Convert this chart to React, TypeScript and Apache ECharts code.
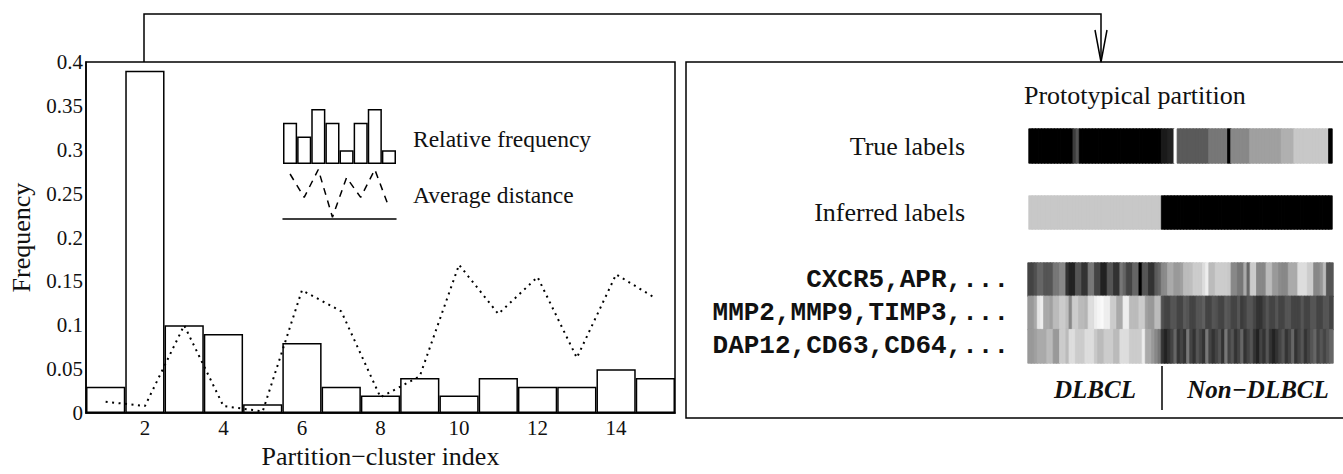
import React, { useEffect, useRef } from 'react';
import * as echarts from 'echarts';

// ---- Left panel data ----
const CLUSTER_INDEX = [1, 2, 3, 4, 5, 6, 7, 8, 9, 10, 11, 12, 13, 14, 15];
const REL_FREQ = [0.03, 0.39, 0.1, 0.09, 0.01, 0.08, 0.03, 0.02, 0.04, 0.02, 0.04, 0.03, 0.03, 0.05, 0.04];
const AVG_DIST = [0.013, 0.008, 0.1, 0.008, 0.002, 0.14, 0.116, 0.018, 0.042, 0.169, 0.113, 0.155, 0.063, 0.158, 0.131];
const X_TICKS = [2, 4, 6, 8, 10, 12, 14];

// legend icon
const LEGEND_BARS = [3, 2, 4, 3, 1, 3, 4, 1];
const LEGEND_ZIGZAG = [5, 2.4, 5.5, 0.2, 4.6, 2.4, 5.5, 1.3];

// ---- Right panel data (gray level 0=black .. 255=white, one value per sample column) ----
// run-length segments: [number of columns, gray]
const TRUE_LABEL_SEGMENTS = [
  [14, 0], [1, 60], [1, 85], [26, 0], [2, 26], [2, 34], [1, 255], [10, 90], [6, 119], [1, 0],
  [6, 136], [10, 160], [4, 176], [11, 200], [1, 0],
];
const INFERRED_SEGMENTS = [[42, 200], [54, 0]];

const GENE_LABELS = ['CXCR5,APR,...', 'MMP2,MMP9,TIMP3,...', 'DAP12,CD63,CD64,...'];
const GENE_ROW1 = [
  68, 68, 80, 102, 102, 85, 85, 85, 119, 119, 136, 136, 51, 34, 34, 85, 85, 51, 51, 119,
  119, 68, 68, 34, 34, 85, 85, 51, 51, 119, 100, 68, 68, 102, 102, 0, 85, 85, 51, 51,
  90, 102, 136, 140, 170, 170, 153, 153, 160, 187, 187, 190, 204, 204, 204, 221, 238, 187, 187, 204,
  204, 204, 204, 200, 136, 136, 119, 119, 170, 102, 204, 204, 136, 136, 136, 187, 187, 153, 153, 140,
  136, 136, 170, 170, 170, 221, 221, 221, 204, 204, 136, 136, 150, 187, 85, 85,
];
const GENE_ROW2 = [
  153, 153, 170, 230, 238, 170, 170, 160, 187, 187, 204, 204, 190, 136, 204, 204, 187, 187, 180, 221,
  221, 238, 245, 250, 238, 238, 204, 204, 170, 170, 238, 238, 187, 187, 187, 204, 204, 160, 153, 153,
  187, 187, 80, 68, 68, 85, 85, 68, 68, 90, 85, 68, 68, 85, 85, 95, 68, 68, 85, 80,
  68, 68, 90, 85, 68, 68, 85, 60, 68, 85, 85, 68, 51, 51, 68, 85, 68, 68, 85, 68,
  68, 85, 85, 68, 68, 68, 85, 68, 68, 85, 85, 68, 68, 85, 85, 68,
];
const GENE_ROW3 = [
  153, 153, 160, 170, 170, 170, 187, 187, 153, 153, 204, 204, 187, 221, 221, 204, 204, 204, 221, 221,
  221, 200, 187, 187, 204, 204, 204, 187, 187, 221, 221, 221, 204, 204, 204, 204, 238, 170, 170, 153,
  136, 119, 51, 34, 51, 68, 102, 51, 68, 51, 119, 68, 51, 85, 68, 51, 119, 68, 51, 68,
  85, 51, 119, 68, 85, 51, 68, 102, 51, 68, 85, 51, 34, 68, 51, 85, 51, 34, 51, 68,
  85, 51, 68, 102, 51, 68, 85, 51, 68, 85, 102, 68, 85, 68, 85, 102,
];

const SERIF = 'Liberation Serif';
const MONO = 'Liberation Mono';
const INK = '#111';

function expand(segs: number[][]): number[] {
  const out: number[] = [];
  segs.forEach(([n, g]) => {
    for (let k = 0; k < n; k++) out.push(g);
  });
  return out;
}

function grayHex(g: number): string {
  const h = Math.round(g).toString(16).padStart(2, '0');
  return `#${h}${h}${h}`;
}

// heatmap cell with a thin same-coloured border so neighbouring cells leave no seams
function cell(col: number, row: number, g: number) {
  return { value: [col, row, g], itemStyle: { borderColor: grayHex(g), borderWidth: 0.8 } };
}

const TRUE_LABELS = expand(TRUE_LABEL_SEGMENTS);
const INFERRED_LABELS = expand(INFERRED_SEGMENTS);
const SAMPLE_COLS = TRUE_LABELS.map((_, i) => String(i));

const MAIN_W = 589;
const TICK_FONT = 21;

const hiddenCat = (data: string[], gridIndex: number) => ({
  type: 'category', gridIndex, data, show: false,
});

const option: any = {
  animation: false,
  backgroundColor: '#fff',
  grid: [
    { left: 86, top: 62, width: MAIN_W, height: 357, show: true, borderColor: '#000', borderWidth: 1.5, backgroundColor: 'transparent' },
    { left: 283, top: 109, width: 113, height: 55 },
    { left: 283, top: 165, width: 113, height: 54 },
    { left: 1029, top: 129, width: 303, height: 34 },
    { left: 1029, top: 196, width: 303, height: 33 },
    { left: 1028, top: 263, width: 305, height: 100 },
  ],
  xAxis: [
    {
      type: 'value', gridIndex: 0, min: 0.5, max: 15.5,
      name: 'Partition\u2212cluster index', nameLocation: 'middle', nameGap: 27,
      nameTextStyle: { fontFamily: SERIF, fontSize: 26, color: INK, verticalAlign: 'top' },
      axisLine: { show: true, lineStyle: { color: '#000', width: 1.5 } },
      axisTick: { show: true, inside: true, length: 9, customValues: X_TICKS, lineStyle: { color: '#000', width: 1.5 } },
      axisLabel: { customValues: X_TICKS, margin: 4, fontFamily: SERIF, fontSize: TICK_FONT, color: INK },
      splitLine: { show: false },
    },
    hiddenCat(LEGEND_BARS.map((_, i) => String(i)), 1),
    {
      type: 'category', gridIndex: 2, data: LEGEND_ZIGZAG.map((_, i) => String(i)),
      axisLine: { show: true, lineStyle: { color: '#000', width: 1.5 } },
      axisTick: { show: false }, axisLabel: { show: false },
    },
    hiddenCat(SAMPLE_COLS, 3),
    hiddenCat(SAMPLE_COLS, 4),
    hiddenCat(SAMPLE_COLS, 5),
  ],
  yAxis: [
    {
      type: 'value', gridIndex: 0, min: 0, max: 0.4, interval: 0.05,
      name: 'Frequency', nameLocation: 'middle', nameGap: 52, nameRotate: 90,
      nameTextStyle: { fontFamily: SERIF, fontSize: 26, color: INK },
      axisLine: { show: true, lineStyle: { color: '#000', width: 1.5 } },
      axisTick: { show: false },
      axisLabel: { margin: 3, fontFamily: SERIF, fontSize: TICK_FONT, color: INK },
      splitLine: { show: false },
    },
    { type: 'value', gridIndex: 1, min: 0, max: 4, show: false },
    { type: 'value', gridIndex: 2, min: 0, max: 6, show: false },
    {
      type: 'category', gridIndex: 3, data: ['True labels'],
      axisLine: { show: false }, axisTick: { show: false },
      axisLabel: { interval: 0, margin: 64, fontFamily: SERIF, fontSize: 26, color: INK },
    },
    {
      type: 'category', gridIndex: 4, data: ['Inferred labels'],
      axisLine: { show: false }, axisTick: { show: false },
      axisLabel: { interval: 0, margin: 64, fontFamily: SERIF, fontSize: 26, color: INK },
    },
    {
      type: 'category', gridIndex: 5, data: GENE_LABELS, inverse: true,
      axisLine: { show: false }, axisTick: { show: false },
      axisLabel: { interval: 0, hideOverlap: false, margin: 19, fontFamily: MONO, fontWeight: 'bold', fontSize: 26, color: INK },
    },
  ],
  visualMap: {
    type: 'continuous', show: false, min: 0, max: 255, dimension: 2,
    seriesIndex: [4, 5, 6],
    inRange: { color: ['#000000', '#ffffff'] },
  },
  series: [
    {
      type: 'bar', xAxisIndex: 0, yAxisIndex: 0, barWidth: MAIN_W / 15,
      data: CLUSTER_INDEX.map((x, i) => [x, REL_FREQ[i]]),
      itemStyle: { color: '#fff', borderColor: '#000', borderWidth: 1.5 },
      silent: true, z: 2,
    },
    {
      type: 'line', xAxisIndex: 0, yAxisIndex: 0,
      data: CLUSTER_INDEX.map((x, i) => [x, AVG_DIST[i]]),
      showSymbol: false, symbol: 'none',
      lineStyle: { color: '#000', width: 2, type: [2, 4.5] },
      silent: true, z: 3,
    },
    {
      type: 'bar', xAxisIndex: 1, yAxisIndex: 1, barCategoryGap: '0%',
      data: LEGEND_BARS,
      itemStyle: { color: '#fff', borderColor: '#000', borderWidth: 1.5 },
      silent: true,
    },
    {
      type: 'line', xAxisIndex: 2, yAxisIndex: 2, data: LEGEND_ZIGZAG,
      showSymbol: false, symbol: 'none',
      lineStyle: { color: '#000', width: 1.5, type: [7, 6] },
      silent: true,
    },
    {
      type: 'heatmap', xAxisIndex: 3, yAxisIndex: 3,
      data: TRUE_LABELS.map((g, i) => cell(i, 0, g)), silent: true,
    },
    {
      type: 'heatmap', xAxisIndex: 4, yAxisIndex: 4,
      data: INFERRED_LABELS.map((g, i) => cell(i, 0, g)), silent: true,
    },
    {
      type: 'heatmap', xAxisIndex: 5, yAxisIndex: 5,
      data: [
        ...GENE_ROW1.map((g, i) => cell(i, 0, g)),
        ...GENE_ROW2.map((g, i) => cell(i, 1, g)),
        ...GENE_ROW3.map((g, i) => cell(i, 2, g)),
      ],
      silent: true,
    },
  ],
  graphic: [
    // legend texts
    { type: 'text', left: 413, top: 127, style: { text: 'Relative frequency', font: `23.5px "${SERIF}"`, fill: INK } },
    { type: 'text', left: 413, top: 183, style: { text: 'Average distance', font: `23.5px "${SERIF}"`, fill: INK } },
    // right panel frame
    { type: 'rect', shape: { x: 686, y: 62, width: 720, height: 356 }, style: { fill: 'none', stroke: '#000', lineWidth: 1.5 } },
    { type: 'text', left: 1024, top: 82, style: { text: 'Prototypical partition', font: `26px "${SERIF}"`, fill: INK } },
    { type: 'text', x: 1095, y: 389, style: { text: 'DLBCL', font: `italic bold 25px "${SERIF}"`, fill: INK, align: 'center', verticalAlign: 'middle' } },
    { type: 'text', x: 1258, y: 389, style: { text: 'Non\u2212DLBCL', font: `italic bold 25px "${SERIF}"`, fill: INK, align: 'center', verticalAlign: 'middle' } },
    { type: 'line', shape: { x1: 1162, y1: 366, x2: 1162, y2: 410 }, style: { stroke: '#000', lineWidth: 1.5 } },
    // connecting arrow
    { type: 'polyline', shape: { points: [[144, 62], [144, 14], [1101, 14], [1101, 62]] }, style: { stroke: '#000', lineWidth: 1.5, fill: 'none' } },
    { type: 'polyline', shape: { points: [[1095, 30], [1101, 62], [1107, 30]] }, style: { stroke: '#000', lineWidth: 1.5, fill: 'none' } },
  ],
};

export default function App() {
  const ref = useRef<HTMLDivElement>(null);
  useEffect(() => {
    const chart = echarts.init(ref.current!, null, { renderer: 'svg' });
    chart.setOption(option);
    return () => chart.dispose();
  }, []);
  return (
    <div
      ref={ref}
      style={{ position: 'fixed', left: 0, top: 0, width: 1343, height: 474, background: '#fff' }}
    />
  );
}
